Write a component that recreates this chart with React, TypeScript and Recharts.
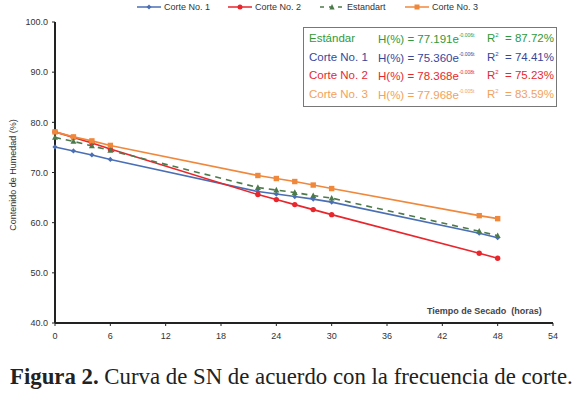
import React from "react";
import { LineChart, Line, XAxis, YAxis } from "recharts";

const hours = [0, 2, 4, 6, 22, 24, 26, 28, 30, 46, 48];
const corte1 = [75.1, 74.3, 73.5, 72.6, 66.2, 65.7, 65.2, 64.7, 64.1, 57.9, 57.0];
const corte2 = [78.1, 77.0, 75.9, 74.7, 65.6, 64.6, 63.6, 62.6, 61.6, 53.9, 52.9];
const estandart = [77.0, 76.2, 75.3, 74.4, 67.0, 66.5, 66.0, 65.4, 64.9, 58.3, 57.4];
const corte3 = [78.1, 77.1, 76.3, 75.4, 69.4, 68.8, 68.2, 67.5, 66.8, 61.4, 60.8];

const xTicks = [0, 6, 12, 18, 24, 30, 36, 42, 48, 54];
const yTicks = [40, 50, 60, 70, 80, 90, 100];

const seriesNames = ["Corte No. 1", "Corte No. 2", "Estandart", "Corte No. 3"];
const eqNames = ["Estándar", "Corte No. 1", "Corte No. 2", "Corte No. 3"];
const eqCoef = ["77.191", "75.360", "78.368", "77.968"];
const eqExp = ["-0.006t", "-0.006t", "-0.008t", "-0.005t"];
const eqR2 = ["87.72%", "74.41%", "75.23%", "83.59%"];

const C1 = "#4a6fb5";
const C2 = "#e8262c";
const CE = "#4d7a4a";
const C3 = "#f0883c";
const eqColors = ["#2e9a3c", "#36479c", "#e52a2e", "#f2a25a"];

const data = hours.map((h, i) => ({
  h,
  c1: corte1[i],
  c2: corte2[i],
  e: estandart[i],
  c3: corte3[i],
}));

const font = "Arial, 'Liberation Sans', sans-serif";

const DiamondDot = (p: any) => (
  <path key={`d${p.index}`} d={`M${p.cx},${p.cy - 2.6}L${p.cx + 2.6},${p.cy}L${p.cx},${p.cy + 2.6}L${p.cx - 2.6},${p.cy}Z`} fill={C1} />
);
const CircleDot = (p: any) => <circle key={`c${p.index}`} cx={p.cx} cy={p.cy} r={2.7} fill={C2} />;
const TriDot = (p: any) => (
  <path key={`t${p.index}`} d={`M${p.cx},${p.cy - 3.2}L${p.cx + 3},${p.cy + 2.4}L${p.cx - 3},${p.cy + 2.4}Z`} fill={CE} />
);
const SquareDot = (p: any) => <rect key={`s${p.index}`} x={p.cx - 2.7} y={p.cy - 2.7} width={5.4} height={5.4} fill={C3} />;

const legendItems = [
  { name: seriesNames[0], color: C1, left: 137, shape: "diamond", dash: false },
  { name: seriesNames[1], color: C2, left: 228, shape: "circle", dash: false },
  { name: seriesNames[2], color: CE, left: 320, shape: "tri", dash: true },
  { name: seriesNames[3], color: C3, left: 405, shape: "square", dash: false },
];

function LegendMarker({ color, shape, dash }: any) {
  return (
    <svg width={24} height={10} style={{ display: "block" }}>
      <line x1={0} y1={5} x2={24} y2={5} stroke={color} strokeWidth={1.5} strokeDasharray={dash ? "4 5" : undefined} />
      {shape === "diamond" && <path d="M12,2.5L14.5,5L12,7.5L9.5,5Z" fill={color} />}
      {shape === "circle" && <circle cx={12} cy={5} r={2.5} fill={color} />}
      {shape === "tri" && <path d="M12,2L14.6,7.5L9.4,7.5Z" fill={color} />}
      {shape === "square" && <rect x={9.5} y={2.5} width={5} height={5} fill={color} />}
    </svg>
  );
}

export default function App() {
  return (
    <div style={{ position: "absolute", left: 0, top: 0, width: 584, height: 395, background: "#fff", overflow: "hidden" }}>
      <LineChart width={584} height={345} data={data} margin={{ top: 22, right: 31, bottom: 0, left: 0 }}>
        <XAxis
          dataKey="h"
          type="number"
          domain={[0, 54]}
          ticks={xTicks}
          interval={0}
          tickSize={3}
          tickMargin={7}
          height={22}
          axisLine={{ stroke: "#222", strokeWidth: 2 }}
          tickLine={{ stroke: "#222" }}
          tick={{ fill: "#333", fontSize: 9, fontFamily: font }}
        />
        <XAxis xAxisId="top" orientation="top" dataKey="h" type="number" domain={[0, 54]} tick={false} tickLine={false} height={0} axisLine={{ stroke: "#333", strokeWidth: 1.5 }} />
        <YAxis
          type="number"
          domain={[40, 100]}
          ticks={yTicks}
          interval={0}
          width={55}
          tickSize={3}
          tickMargin={4}
          tickFormatter={(v: number) => v.toFixed(1)}
          axisLine={{ stroke: "#222", strokeWidth: 2 }}
          tickLine={{ stroke: "#222" }}
          tick={{ fill: "#333", fontSize: 9, fontFamily: font }}
        />
        <YAxis yAxisId="right" orientation="right" type="number" domain={[40, 100]} tick={false} tickLine={false} width={0} axisLine={{ stroke: "#333", strokeWidth: 1.5 }} />
        <Line dataKey="c1" name={seriesNames[0]} stroke={C1} strokeWidth={1.6} dot={DiamondDot} isAnimationActive={false} />
        <Line dataKey="c2" name={seriesNames[1]} stroke={C2} strokeWidth={1.6} dot={CircleDot} isAnimationActive={false} />
        <Line dataKey="c3" name={seriesNames[3]} stroke={C3} strokeWidth={1.6} dot={SquareDot} isAnimationActive={false} />
        <Line dataKey="e" name={seriesNames[2]} stroke={CE} strokeWidth={1.6} strokeDasharray="6 5" dot={TriDot} isAnimationActive={false} />
      </LineChart>

      {/* legend */}
      {legendItems.map((it) => (
        <div key={it.name} style={{ position: "absolute", left: it.left, top: 2, display: "flex", alignItems: "center", gap: 3, fontFamily: font, fontSize: 9, color: "#333", whiteSpace: "nowrap" }}>
          <LegendMarker color={it.color} shape={it.shape} dash={it.dash} />
          <span>{it.name}</span>
        </div>
      ))}

      {/* y-axis title */}
      <div style={{ position: "absolute", left: 13, top: 175, transform: "translate(-50%, -50%) rotate(-90deg)", fontFamily: font, fontSize: 9, color: "#333", whiteSpace: "nowrap" }}>
        Contenido de Humedad (%)
      </div>

      {/* x-axis title */}
      <div style={{ position: "absolute", left: 427, top: 306, fontFamily: font, fontSize: 9, fontWeight: "bold", color: "#444", whiteSpace: "nowrap" }}>
        Tiempo de Secado&nbsp;&nbsp;(horas)
      </div>

      {/* equation box */}
      <div style={{ position: "absolute", left: 303, top: 27, width: 252, height: 78, border: "1.5px solid #777", background: "#fff" }}>
        {eqNames.map((n, i) => (
          <div key={n} style={{ position: "absolute", top: 4 + i * 18.7, left: 0, width: 252, height: 18, fontFamily: font, fontSize: 11.5, color: eqColors[i], whiteSpace: "nowrap" }}>
            <span style={{ position: "absolute", left: 5 }}>{n}</span>
            <span style={{ position: "absolute", left: 74 }}>
              H(%) = {eqCoef[i]}e<sup style={{ fontSize: 5, verticalAlign: "6px" }}>{eqExp[i]}</sup>
            </span>
            <span style={{ position: "absolute", left: 183 }}>
              R<sup style={{ fontSize: 6, verticalAlign: "5px" }}>2</sup>&nbsp; = {eqR2[i]}
            </span>
          </div>
        ))}
      </div>

      {/* caption */}
      <div style={{ position: "absolute", left: 10, top: 364, fontFamily: "'Liberation Serif', 'Times New Roman', serif", fontSize: 22.8, color: "#222", whiteSpace: "nowrap" }}>
        <b>Figura 2.</b> Curva de SN de acuerdo con la frecuencia de corte.
      </div>
    </div>
  );
}
